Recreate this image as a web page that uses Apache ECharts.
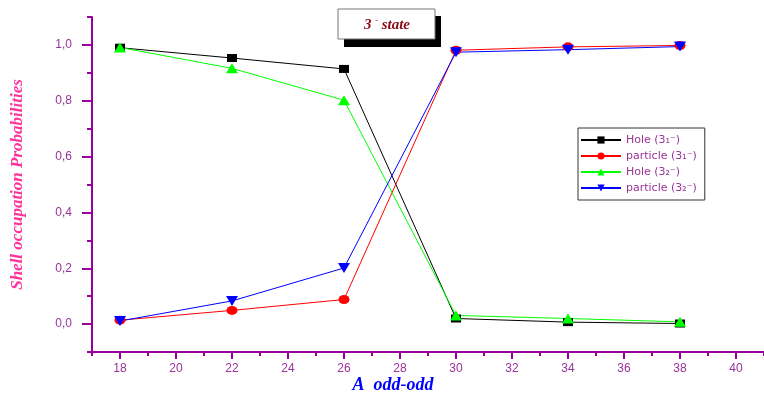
<!DOCTYPE html>
<html>
<head>
<meta charset="utf-8">
<script src="https://cdn.jsdelivr.net/npm/echarts@6/dist/echarts.min.js"></script>
<style>
  html, body { margin: 0; padding: 0; background: #fff; }
  #chart { width: 764px; height: 403px; }
</style>
</head>
<body>
<div id="chart"></div>
<script>
// Mass numbers of the odd-odd nuclei
const massNumbers = [18, 22, 26, 30, 34, 38];

// Shell occupation probabilities for the 3- states
const holeState1 = [0.990, 0.953, 0.914, 0.020, 0.007, 0.002];
const particleState1 = [0.014, 0.049, 0.088, 0.981, 0.993, 0.998];
const holeState2 = [0.991, 0.916, 0.802, 0.031, 0.020, 0.008];
const particleState2 = [0.011, 0.083, 0.201, 0.974, 0.983, 0.994];

// Tick labels
const xTickValues = [18, 20, 22, 24, 26, 28, 30, 32, 34, 36, 38, 40];
const yTickValues = [0, 0.2, 0.4, 0.6, 0.8, 1.0];

const seriesNames = ['Hole (3\u2081\u207B)', 'particle (3\u2081\u207B)', 'Hole (3\u2082\u207B)', 'particle (3\u2082\u207B)'];

const axisColor = '#990099';
const labelColor = '#993399';

const pair = (ys) => massNumbers.map((x, i) => [x, ys[i]]);

const chart = echarts.init(document.getElementById('chart'), null, { renderer: 'canvas' });

chart.setOption({
  backgroundColor: '#ffffff',
  animation: false,
  grid: { left: 92, right: 0, top: 17, bottom: 51, containLabel: false },
  xAxis: [
    {
      type: 'value', min: 17, max: 41,
      axisLine: { show: true, onZero: false, lineStyle: { color: axisColor, width: 2 } },
      axisTick: { show: true, customValues: xTickValues, length: 7, lineStyle: { color: axisColor, width: 2 } },
      axisLabel: {
        show: true, customValues: xTickValues, margin: 11,
        color: labelColor, fontSize: 12, fontFamily: 'Liberation Sans'
      },
      splitLine: { show: false }
    },
    {
      type: 'value', min: 17, max: 41, interval: 1, position: 'bottom',
      axisLine: { show: false, onZero: false },
      axisTick: { show: true, length: 4, lineStyle: { color: axisColor, width: 2 } },
      axisLabel: { show: false },
      splitLine: { show: false }
    }
  ],
  yAxis: [
    {
      type: 'value', min: -0.1, max: 1.1,
      name: 'Shell occupation Probabilities',
      nameLocation: 'middle', nameGap: 66,
      nameTextStyle: {
        color: '#ff3399', fontSize: 17, fontWeight: 'bold', fontStyle: 'italic',
        fontFamily: 'Liberation Serif'
      },
      axisLine: { show: true, onZero: false, lineStyle: { color: axisColor, width: 2 } },
      axisTick: { show: true, customValues: yTickValues, length: 10, lineStyle: { color: axisColor, width: 2 } },
      axisLabel: {
        show: true, customValues: yTickValues, margin: 20,
        color: labelColor, fontSize: 12, fontFamily: 'Liberation Sans',
        formatter: (v) => v.toFixed(1).replace('.', ',')
      },
      splitLine: { show: false }
    },
    {
      type: 'value', min: -0.1, max: 1.1, interval: 0.1, position: 'left',
      axisLine: { show: false, onZero: false },
      axisTick: { show: true, length: 5, lineStyle: { color: axisColor, width: 2 } },
      axisLabel: { show: false },
      splitLine: { show: false }
    }
  ],
  legend: {
    orient: 'vertical',
    left: 578, top: 128,
    padding: [6, 8, 6, 2],
    itemWidth: 40, itemHeight: 9, itemGap: 4,
    borderColor: '#333', borderWidth: 1,
    backgroundColor: '#fff',
    textStyle: { color: labelColor, fontSize: 11, fontFamily: 'DejaVu Sans', lineHeight: 12 },
    data: seriesNames
  },
  graphic: [
    // title box with drop shadow
    { type: 'rect', shape: { x: 344, y: 16, width: 97, height: 31 }, style: { fill: '#000' }, z: 10 },
    { type: 'rect', shape: { x: 338, y: 9, width: 97, height: 30 }, style: { fill: '#fff', stroke: '#777', lineWidth: 1 }, z: 11 },
    {
      type: 'text', x: 387, y: 25, z: 12,
      style: {
        text: '3 {sup|-} state',
        fill: '#8b0a1a',
        font: 'italic bold 15px "Liberation Serif"',
        align: 'center', verticalAlign: 'middle',
        rich: { sup: { fontSize: 8, fill: '#8b0a1a', verticalAlign: 'top', padding: [0, 0, 10, 0] } }
      }
    },
    {
      type: 'text', x: 393, y: 385, z: 12,
      style: {
        text: 'A  odd-odd',
        fill: '#0000ff',
        font: 'italic bold 18px "Liberation Serif"',
        align: 'center', verticalAlign: 'middle'
      }
    }
  ],
  series: [
    {
      name: seriesNames[0], type: 'line', data: pair(holeState1),
      symbol: 'rect', symbolSize: [10, 8],
      lineStyle: { color: '#000000', width: 1 }, itemStyle: { color: '#000000' }
    },
    {
      name: seriesNames[1], type: 'line', data: pair(particleState1),
      symbol: 'circle', symbolSize: [11, 9],
      lineStyle: { color: '#ff0000', width: 1 }, itemStyle: { color: '#ff0000' }
    },
    {
      name: seriesNames[2], type: 'line', data: pair(holeState2),
      symbol: 'triangle', symbolSize: [12, 10],
      lineStyle: { color: '#00ff00', width: 1 }, itemStyle: { color: '#00ff00' }
    },
    {
      name: seriesNames[3], type: 'line', data: pair(particleState2),
      symbol: 'triangle', symbolRotate: 180, symbolSize: [12, 10],
      lineStyle: { color: '#0000ff', width: 1 }, itemStyle: { color: '#0000ff' }
    }
  ]
});
</script>
</body>
</html>
